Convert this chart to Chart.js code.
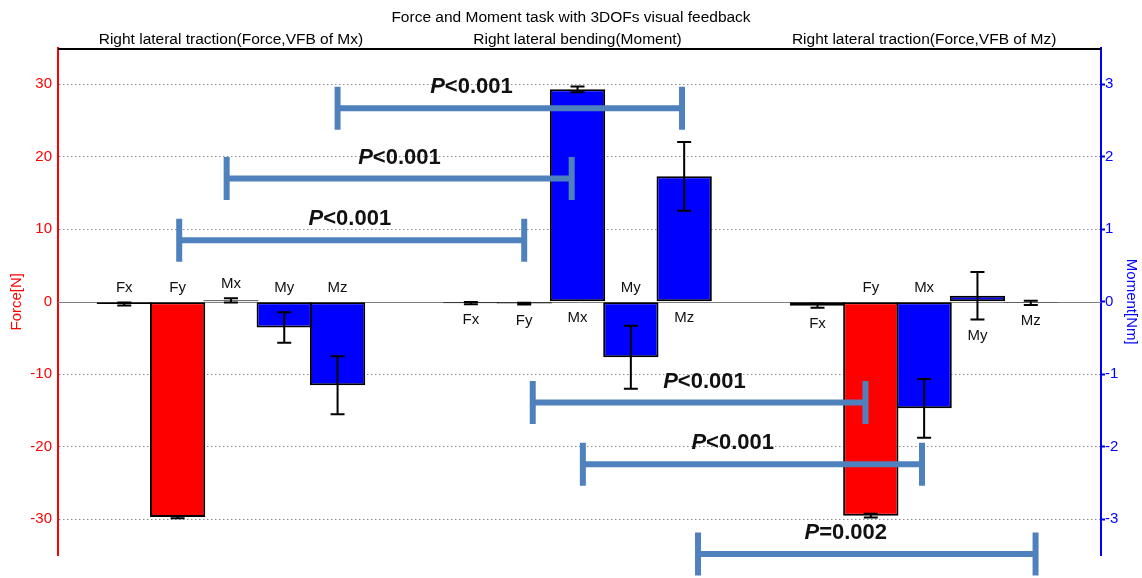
<!DOCTYPE html>
<html><head><meta charset="utf-8">
<script src="https://cdn.jsdelivr.net/npm/chart.js@4.4.0/dist/chart.umd.min.js"></script>
<style>html,body{margin:0;padding:0;background:#fff;overflow:hidden}</style>
</head><body>
<canvas id="c" width="1142" height="578" style="width:1142px;height:578px;display:block"></canvas>
<script>
// ---- data ----
const chartTitle = 'Force and Moment task with 3DOFs visual feedback';
const groupTitles = ['Right lateral traction(Force,VFB of Mx)', 'Right lateral bending(Moment)', 'Right lateral traction(Force,VFB of Mz)'];
const groupCenters = [2, 8.5, 15];

const forceLabels = ['Fx', 'Fy', 'Fx', 'Fy', 'Fx', 'Fy'];
const forcePos = [0, 1, 6.5, 7.5, 13, 14];
const forceValues = [-0.3, -29.7, -0.2, -0.25, -0.55, -29.5];      // N
const forceErrors = [0.2, 0.15, 0.15, 0.12, 0.28, 0.25];
const forceLabelSide = ['above', 'above', 'below', 'below', 'below', 'above'];

const momentLabels = ['Mx', 'My', 'Mz', 'Mx', 'My', 'Mz', 'Mx', 'My', 'Mz'];
const momentPos = [2, 3, 4, 8.5, 9.5, 10.5, 15, 16, 17];
const momentValues = [0.02, -0.355, -1.15, 2.93, -0.765, 1.73, -1.47, 0.083, -0.015]; // Nm
const momentErrors = [0.03, 0.21, 0.40, 0.04, 0.435, 0.475, 0.405, 0.327, 0.03];
const momentLabelSide = ['above', 'above', 'above', 'below', 'above', 'below', 'above', 'below', 'below'];

const forceTicks = [-30, -20, -10, 0, 10, 20, 30];
const momentTicks = [-3, -2, -1, 0, 1, 2, 3];

// significance brackets (x in bar-slot units, level in N)
const bracketFrom = [4.00, 1.92, 1.03, 7.66, 8.60, 10.76];
const bracketTo = [10.46, 8.39, 7.50, 13.90, 14.96, 17.09];
const bracketLevel = [26.7, 17.0, 8.5, -13.9, -22.4, -34.8];
const bracketLabelAt = [6.51, 5.16, 4.23, 10.88, 11.41, 13.53];
const bracketText = ['<0.001', '<0.001', '<0.001', '<0.001', '<0.001', '=0.002'];

// ---- drawing ----
const FAM = "'Liberation Sans', Arial, sans-serif";

const annot = {
  id: 'annot',
  beforeDatasetsDraw(chart) {
    const {ctx, chartArea: a, scales} = chart;
    const y0 = Math.round(scales.yF.getPixelForValue(0)) + 0.5;
    ctx.save();
    ctx.strokeStyle = '#808080'; ctx.lineWidth = 1;
    ctx.beginPath(); ctx.moveTo(a.left, y0); ctx.lineTo(a.right, y0); ctx.stroke();
    ctx.restore();
  },
  afterDatasetsDraw(chart) {
    const {ctx, chartArea: a, scales} = chart;
    const xs = scales.x;
    const y0 = scales.yF.getPixelForValue(0);
    ctx.save();
    // top line
    ctx.strokeStyle = '#000'; ctx.lineWidth = 2;
    ctx.beginPath(); ctx.moveTo(a.left, a.top + 1); ctx.lineTo(a.right, a.top + 1); ctx.stroke();
    // group titles
    ctx.fillStyle = '#000'; ctx.font = '15.5px ' + FAM; ctx.textAlign = 'center'; ctx.textBaseline = 'middle';
    groupTitles.forEach((t, i) => ctx.fillText(t, xs.getPixelForValue(groupCenters[i]), 40));

    const series = [
      {pos: forcePos, val: forceValues, err: forceErrors, lab: forceLabels, side: forceLabelSide, ys: scales.yF},
      {pos: momentPos, val: momentValues, err: momentErrors, lab: momentLabels, side: momentLabelSide, ys: scales.yM}
    ];
    series.forEach(s => {
      s.pos.forEach((p, i) => {
        const x = xs.getPixelForValue(p);
        const yv = s.ys.getPixelForValue(s.val[i]);
        const yt = s.ys.getPixelForValue(s.val[i] + s.err[i]);
        const yb = s.ys.getPixelForValue(s.val[i] - s.err[i]);
        ctx.strokeStyle = '#000'; ctx.lineWidth = 2;
        ctx.beginPath();
        ctx.moveTo(x, yt); ctx.lineTo(x, yb);
        ctx.moveTo(x - 7, yt); ctx.lineTo(x + 7, yt);
        ctx.moveTo(x - 7, yb); ctx.lineTo(x + 7, yb);
        ctx.stroke();
        ctx.fillStyle = '#111'; ctx.font = '15px ' + FAM;
        let ly;
        if (s.side[i] === 'above') ly = Math.min(y0, yv, yt) - 14;
        else ly = Math.max(y0, yv, yb) + 16;
        ctx.fillText(s.lab[i], x, ly);
      });
    });

    // brackets
    const ys = scales.yF;
    ctx.strokeStyle = '#4F81BD'; ctx.lineWidth = 6; ctx.lineCap = 'butt';
    bracketFrom.forEach((f, i) => {
      const x1 = xs.getPixelForValue(f), x2 = xs.getPixelForValue(bracketTo[i]);
      const y = ys.getPixelForValue(bracketLevel[i]);
      ctx.beginPath();
      ctx.moveTo(x1, y); ctx.lineTo(x2, y);
      ctx.moveTo(x1, y - 21.5); ctx.lineTo(x1, y + 21.5);
      ctx.moveTo(x2, y - 21.5); ctx.lineTo(x2, y + 21.5);
      ctx.stroke();
      const fi = 'italic bold 22px ' + FAM, fb = 'bold 22px ' + FAM;
      ctx.font = fi; const w1 = ctx.measureText('P').width;
      ctx.font = fb; const w2 = ctx.measureText(bracketText[i]).width;
      const cx = xs.getPixelForValue(bracketLabelAt[i]);
      const sx = cx - (w1 + w2) / 2;
      const ty = y - 21;
      ctx.fillStyle = '#111'; ctx.textAlign = 'left'; ctx.textBaseline = 'middle';
      ctx.font = fi; ctx.fillText('P', sx, ty);
      ctx.font = fb; ctx.fillText(bracketText[i], sx + w1, ty);
    });
    ctx.restore();
  }
};

const barCommon = {
  type: 'bar', borderColor: '#000', borderWidth: 2, borderSkipped: false,
  grouped: false, barPercentage: 1.0375, categoryPercentage: 1, xAxisID: 'x'
};

new Chart(document.getElementById('c'), {
  type: 'bar',
  data: {
    datasets: [
      Object.assign({}, barCommon, {label: 'Force', yAxisID: 'yF', backgroundColor: '#ff0000',
        data: forcePos.map((x, i) => ({x: x, y: forceValues[i]}))}),
      Object.assign({}, barCommon, {label: 'Moment', yAxisID: 'yM', backgroundColor: '#0000ff',
        data: momentPos.map((x, i) => ({x: x, y: momentValues[i]}))})
    ]
  },
  options: {
    responsive: false, animation: false, devicePixelRatio: 1,
    layout: {padding: {top: 0, bottom: 22.5, left: 0, right: 0}},
    plugins: {
      legend: {display: false}, tooltip: {enabled: false},
      title: {display: true, text: chartTitle, color: '#000', font: {family: FAM, size: 15.5, weight: 'normal'}, padding: {top: 8.5, bottom: 20.9}}
    },
    scales: {
      x: {type: 'linear', min: -1.243, max: 18.317, offset: false, display: false},
      yF: {
        type: 'linear', position: 'left', min: -35, max: 35,
        afterBuildTicks: s => { s.ticks = forceTicks.map(v => ({value: v})); },
        afterFit: s => { s.width = 58; },
        ticks: {color: '#ff0000', font: {family: FAM, size: 15}, padding: 6},
        grid: {color: c => (c.tick && c.tick.value === 0) ? 'rgba(0,0,0,0)' : '#8a8a8a', lineWidth: 1, drawTicks: false},
        border: {color: '#ff0000', width: 2, dash: [1.5, 2.5]},
        title: {display: true, text: 'Force[N]', color: '#ff0000', font: {family: FAM, size: 15}, padding: {top: 8, bottom: 0}}
      },
      yM: {
        type: 'linear', position: 'right', min: -3.5, max: 3.5,
        afterBuildTicks: s => { s.ticks = momentTicks.map(v => ({value: v})); },
        afterFit: s => { s.width = 41; },
        ticks: {color: '#0000ff', font: {family: FAM, size: 15}, padding: 0},
        grid: {drawOnChartArea: false, drawTicks: true, tickLength: 4, tickColor: '#0000ff', tickWidth: 2},
        border: {color: '#0000ff', width: 2},
        title: {display: true, text: 'Moment[Nm]', color: '#0000ff', font: {family: FAM, size: 15}, padding: {top: 2, bottom: 0}}
      }
    }
  },
  plugins: [annot]
});
</script>
</body></html>
